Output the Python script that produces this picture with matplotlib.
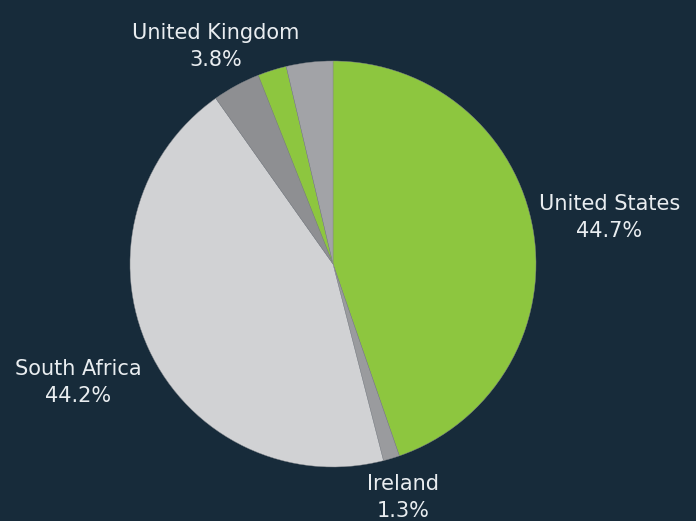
import numpy as np
import matplotlib
matplotlib.use("Agg")
import matplotlib.pyplot as plt

countries = ["United States", "Ireland", "South Africa", "United Kingdom", "Other 1", "Other 2"]
shares = [44.7, 1.3, 44.2, 3.8, 2.3, 3.7]
show_label = [True, True, True, True, False, False]
colors = ["#8dc63f", "#9a9b9e", "#d1d2d4", "#8e8f92", "#8dc63f", "#a2a3a7"]
label_dist = [1.38, 1.20, 1.385, 1.217, 1.2, 1.2]

bg = "#172b3a"
fig = plt.figure(figsize=(6.96, 5.21), dpi=100, facecolor=bg)
ax = fig.add_axes([130 / 696, 54 / 521, 406 / 696, 406 / 521])
ax.set_facecolor(bg)

wedges, _ = ax.pie(shares, colors=colors, startangle=90, counterclock=False,
                   wedgeprops=dict(edgecolor="#84878c", linewidth=0.3))
ax.set_xlim(-1, 1)
ax.set_ylim(-1, 1)
ax.set_aspect("equal")
ax.axis("off")

for w, name, val, show, d in zip(wedges, countries, shares, show_label, label_dist):
    if not show:
        continue
    mid = np.deg2rad((w.theta1 + w.theta2) / 2)
    ax.text(d * np.cos(mid), d * np.sin(mid), f"{name}\n{val:.1f}%",
            ha="center", va="center", color="#e9edf0", fontsize=15,
            linespacing=1.45, clip_on=False)

fig.savefig("out.png", dpi=100, facecolor=bg)
